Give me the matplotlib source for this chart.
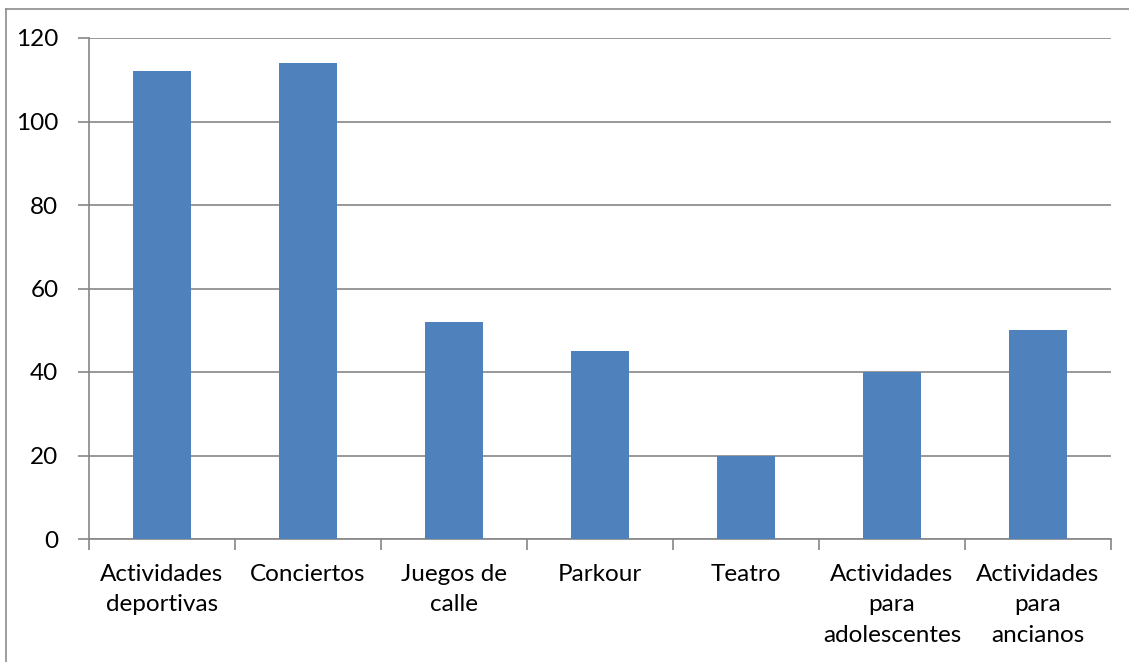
import matplotlib
matplotlib.use('Agg')
import matplotlib.pyplot as plt
from matplotlib.lines import Line2D

categories = ['Actividades\ndeportivas', 'Conciertos', 'Juegos de\ncalle', 'Parkour',
              'Teatro', 'Actividades\npara\nadolescentes', 'Actividades\npara\nancianos']
values = [112, 114, 52, 45, 20, 40, 50]
yticks = [0, 20, 40, 60, 80, 100, 120]

W, H = 1129, 662
plt.rcParams['font.family'] = ['Lato', 'DejaVu Sans']

fig = plt.figure(figsize=(W / 100, H / 100), dpi=100)
ax = fig.add_axes([89 / W, 1 - 539 / H, (1111 - 89) / W, (539 - 38) / H])

grid = '#868686'
x = range(len(values))
ax.bar(x, values, width=0.4, color='#4F81BD', zorder=3)

ax.set_xlim(-0.5, len(values) - 0.5)
ax.set_ylim(0, 120)
ax.set_yticks(yticks)
ax.set_yticklabels([str(v) for v in yticks], fontsize=17.5)
ax.yaxis.grid(True, color=grid, linewidth=1.2, zorder=0)

ax.set_xticks(x)
ax.set_xticklabels(categories, fontsize=17.5, linespacing=1.55, va='top')
ax.tick_params(axis='x', length=0, pad=18)
ax.tick_params(axis='y', length=8, color=grid, width=1.2, pad=14)
# minor ticks at category boundaries
ax.set_xticks([i - 0.5 for i in range(len(values) + 1)], minor=True)
ax.tick_params(axis='x', which='minor', length=8, color=grid, width=1.2)

for s in ['top', 'right']:
    ax.spines[s].set_visible(False)
for s in ['left', 'bottom']:
    ax.spines[s].set_color(grid)
    ax.spines[s].set_linewidth(1.2)

# outer chart border
fig.add_artist(Line2D([6 / W, 6 / W], [0, 1 - 9 / H], transform=fig.transFigure, color='#8c8c8c', lw=1.2))
fig.add_artist(Line2D([6 / W, 1], [1 - 9 / H, 1 - 9 / H], transform=fig.transFigure, color='#8c8c8c', lw=1.2))

fig.savefig('out.png', dpi=100, facecolor='white')
